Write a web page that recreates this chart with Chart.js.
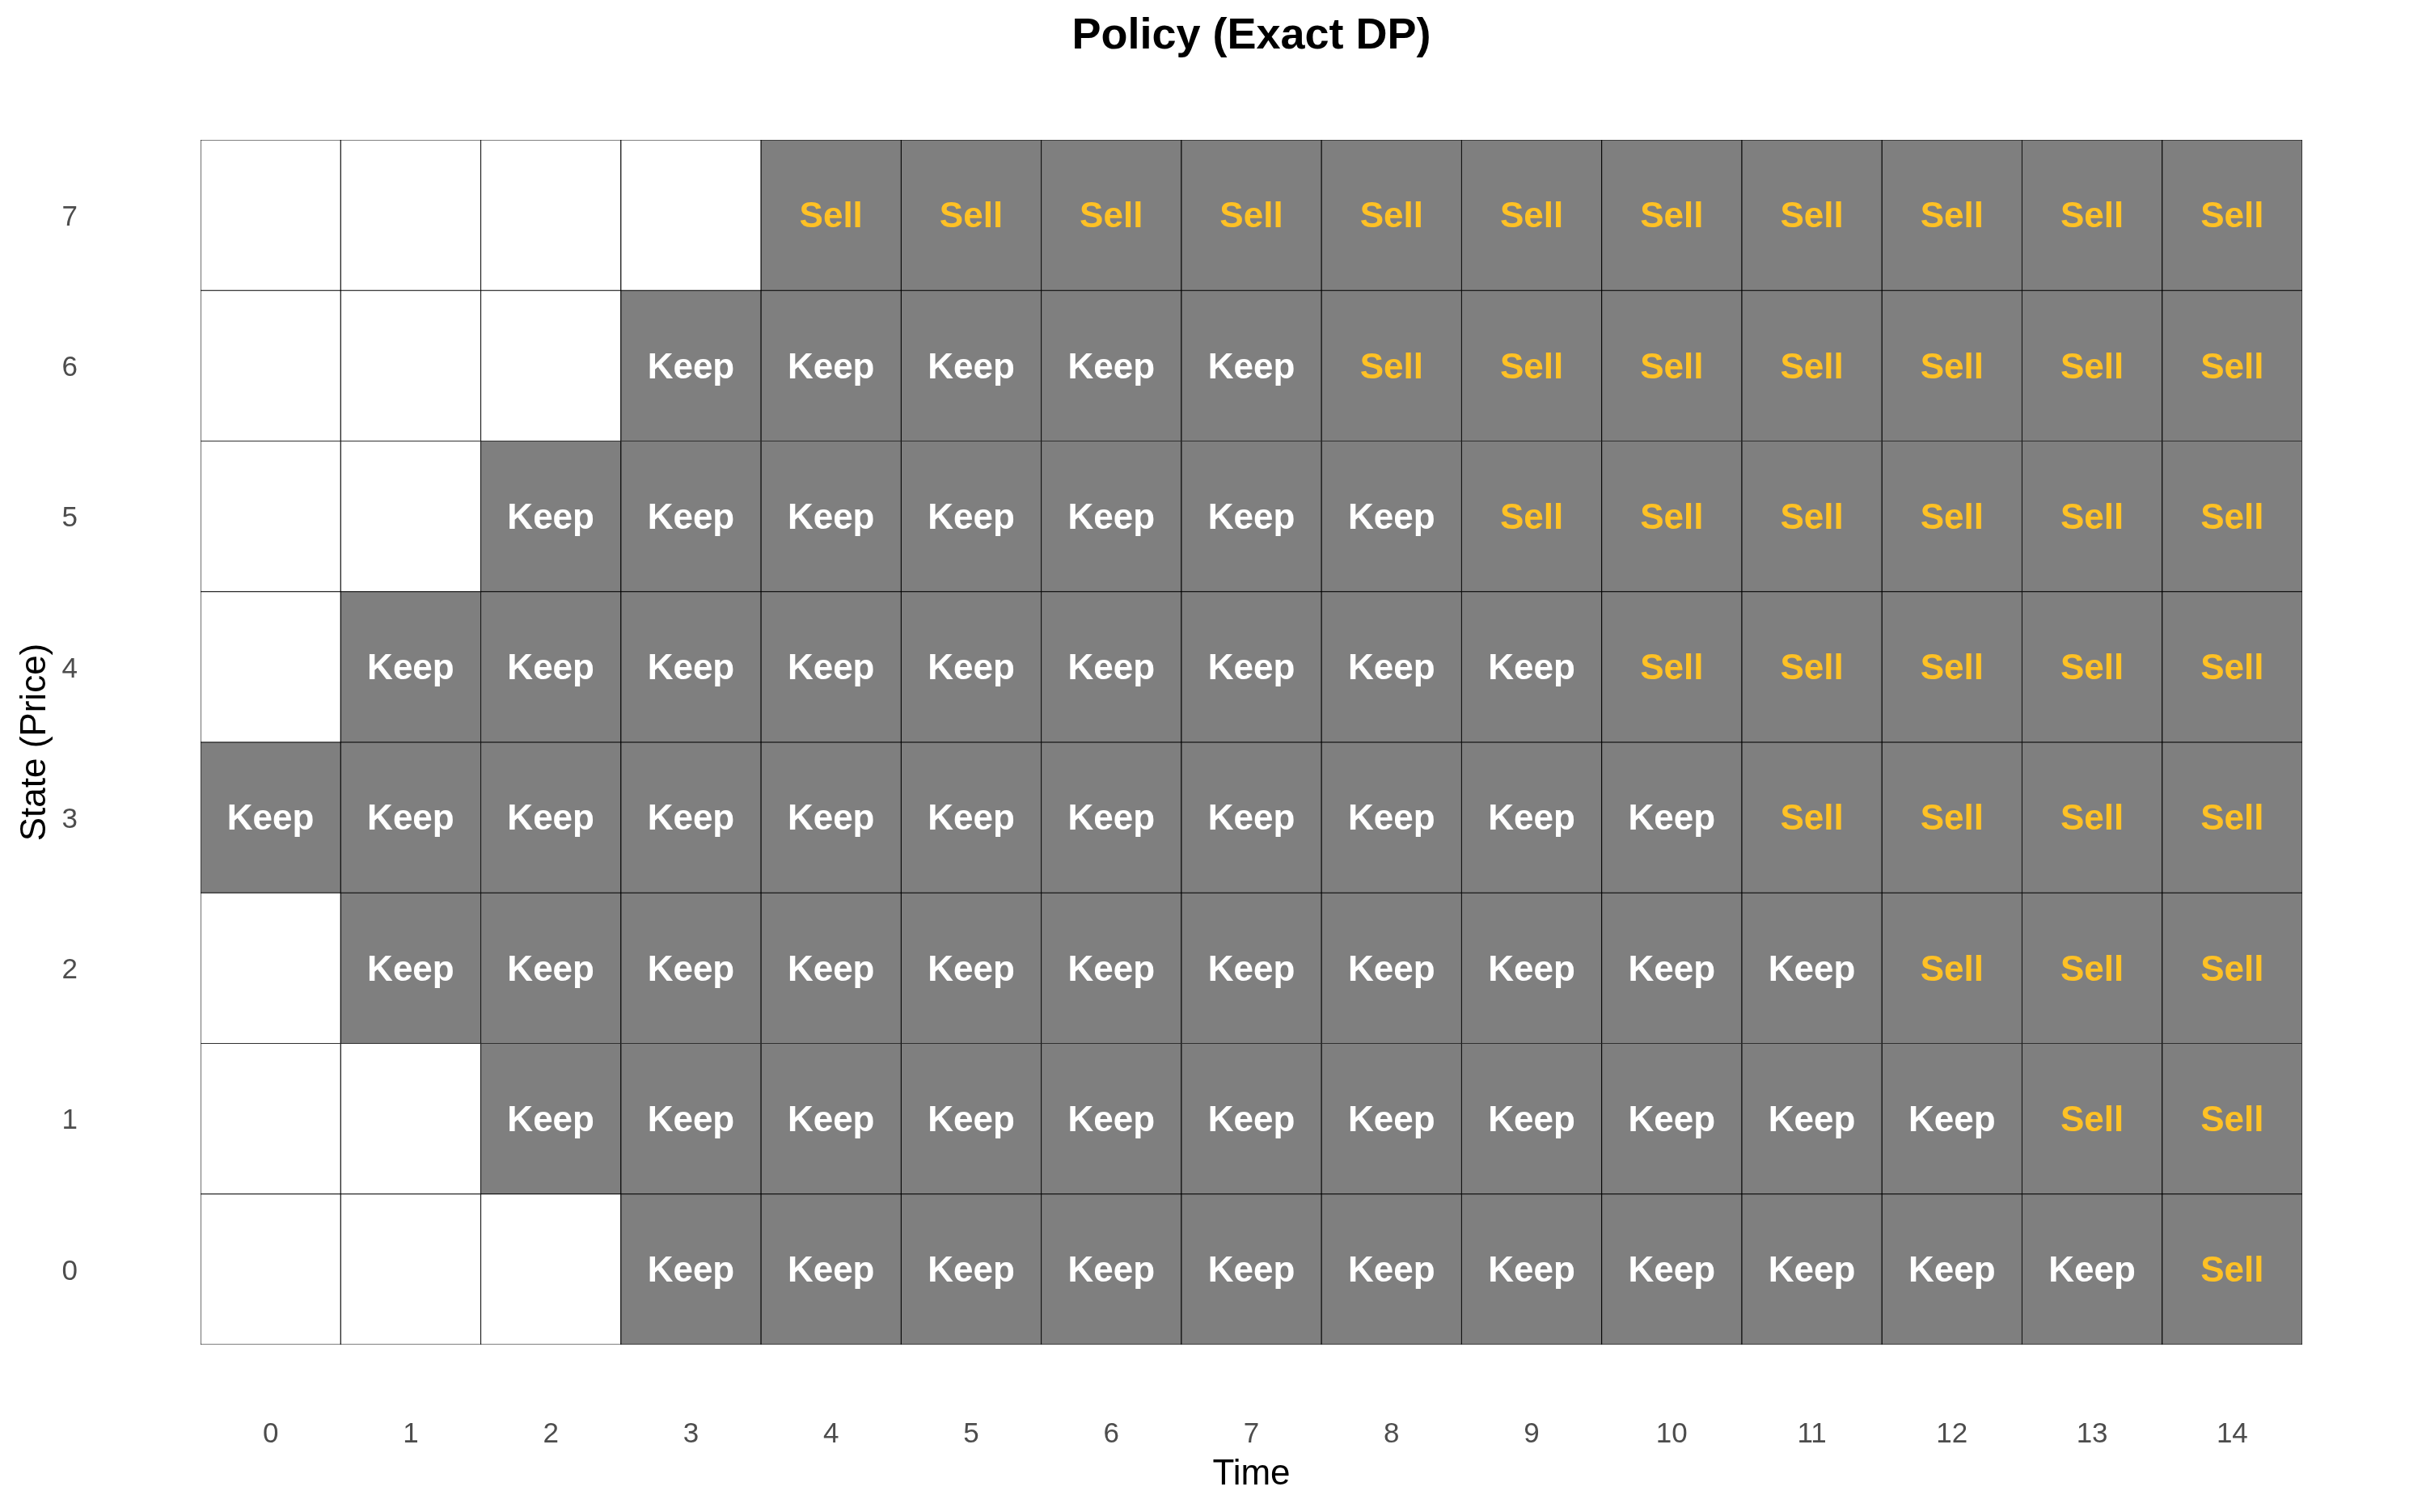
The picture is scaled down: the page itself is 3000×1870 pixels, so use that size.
<!DOCTYPE html>
<html>
<head>
<meta charset="utf-8">
<script src="https://cdn.jsdelivr.net/npm/chart.js@4/dist/chart.umd.min.js"></script>
<style>
  html, body { margin: 0; padding: 0; background: #ffffff; }
  #wrap { width: 3000px; height: 1870px; position: relative; }
</style>
</head>
<body>
<div id="wrap"><canvas id="c"></canvas></div>
<script>
// ---- data ----
const times = ['0','1','2','3','4','5','6','7','8','9','10','11','12','13','14'];
const states = [0, 1, 2, 3, 4, 5, 6, 7];

// policy per state (null = unreachable cell, drawn blank)
const policyState0 = [null, null, null, 'Keep', 'Keep', 'Keep', 'Keep', 'Keep', 'Keep', 'Keep', 'Keep', 'Keep', 'Keep', 'Keep', 'Sell'];
const policyState1 = [null, null, 'Keep', 'Keep', 'Keep', 'Keep', 'Keep', 'Keep', 'Keep', 'Keep', 'Keep', 'Keep', 'Keep', 'Sell', 'Sell'];
const policyState2 = [null, 'Keep', 'Keep', 'Keep', 'Keep', 'Keep', 'Keep', 'Keep', 'Keep', 'Keep', 'Keep', 'Keep', 'Sell', 'Sell', 'Sell'];
const policyState3 = ['Keep', 'Keep', 'Keep', 'Keep', 'Keep', 'Keep', 'Keep', 'Keep', 'Keep', 'Keep', 'Keep', 'Sell', 'Sell', 'Sell', 'Sell'];
const policyState4 = [null, 'Keep', 'Keep', 'Keep', 'Keep', 'Keep', 'Keep', 'Keep', 'Keep', 'Keep', 'Sell', 'Sell', 'Sell', 'Sell', 'Sell'];
const policyState5 = [null, null, 'Keep', 'Keep', 'Keep', 'Keep', 'Keep', 'Keep', 'Keep', 'Sell', 'Sell', 'Sell', 'Sell', 'Sell', 'Sell'];
const policyState6 = [null, null, null, 'Keep', 'Keep', 'Keep', 'Keep', 'Keep', 'Sell', 'Sell', 'Sell', 'Sell', 'Sell', 'Sell', 'Sell'];
const policyState7 = [null, null, null, null, 'Sell', 'Sell', 'Sell', 'Sell', 'Sell', 'Sell', 'Sell', 'Sell', 'Sell', 'Sell', 'Sell'];
const policy = [policyState0, policyState1, policyState2, policyState3, policyState4, policyState5, policyState6, policyState7];

// ---- styling ----
const CELL_GRAY = '#7f7f7f';
const CELL_EMPTY = '#ffffff';
const KEEP_COLOR = '#ffffff';
const SELL_COLOR = '#ffc125';
const FONT = '"Liberation Sans", Arial, Helvetica, sans-serif';

const datasets = states.map((s, si) => ({
  label: 'State ' + s,
  data: times.map(() => [s - 0.5, s + 0.5]),
  backgroundColor: policy[si].map(a => a ? CELL_GRAY : CELL_EMPTY),
  borderColor: '#000000',
  borderWidth: 0.9,
  borderSkipped: false,
  barPercentage: 1.0,
  categoryPercentage: 1.0,
  grouped: false
}));

const cellLabels = {
  id: 'cellLabels',
  afterDatasetsDraw(chart) {
    const ctx = chart.ctx;
    ctx.save();
    ctx.font = 'bold 44px ' + FONT;
    ctx.textAlign = 'center';
    ctx.textBaseline = 'middle';
    chart.data.datasets.forEach((ds, di) => {
      const meta = chart.getDatasetMeta(di);
      meta.data.forEach((bar, i) => {
        const a = policy[di][i];
        if (!a) return;
        ctx.fillStyle = a === 'Sell' ? SELL_COLOR : KEEP_COLOR;
        ctx.fillText(a, bar.x, (bar.y + bar.base) / 2 + 3);
      });
    });
    ctx.restore();
  }
};

new Chart(document.getElementById('c'), {
  type: 'bar',
  data: { labels: times, datasets: datasets },
  options: {
    responsive: true,
    maintainAspectRatio: false,
    animation: false,
    layout: { padding: { top: 0, left: 0, right: 153, bottom: 0 } },
    plugins: {
      legend: { display: false },
      tooltip: { enabled: false },
      title: {
        display: true,
        text: 'Policy (Exact DP)',
        color: '#000000',
        fullSize: false,
        font: { family: FONT, size: 54, weight: 'bold' },
        padding: { top: 12, bottom: 95 }
      }
    },
    scales: {
      x: {
        type: 'category',
        offset: true,
        grid: { display: false, drawTicks: false },
        border: { display: false },
        ticks: { color: '#4d4d4d', font: { family: FONT, size: 35 }, padding: 90, maxRotation: 0 },
        title: { display: true, text: 'Time', color: '#000000', font: { family: FONT, size: 44 }, padding: { top: 0, bottom: 20 } },
        afterFit(scale) { scale.height = 207; }
      },
      y: {
        type: 'linear',
        min: -0.5,
        max: 7.5,
        grid: { display: false, drawTicks: false },
        border: { display: false },
        afterBuildTicks(scale) { scale.ticks = states.map(v => ({ value: v })); },
        ticks: { color: '#4d4d4d', font: { family: FONT, size: 35 }, padding: 152, labelOffset: 3 },
        title: { display: true, text: 'State (Price)', color: '#000000', font: { family: FONT, size: 44 }, padding: { top: 17, bottom: 0 } },
        afterFit(scale) { scale.width = 248; }
      }
    }
  },
  plugins: [cellLabels]
});
</script>
</body>
</html>
